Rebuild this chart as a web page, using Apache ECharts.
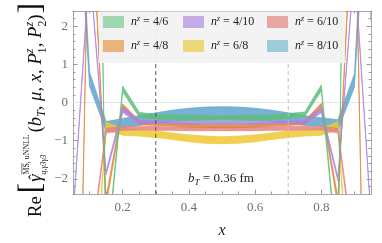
<!DOCTYPE html>
<html><head><meta charset="utf-8">
<script src="https://cdn.jsdelivr.net/npm/echarts@6/dist/echarts.min.js"></script>
<style>html,body{margin:0;padding:0;background:#fff}#c{width:382px;height:243px}</style>
</head><body><div id="c"></div>
<script>
// ---------------- data ----------------
const xValues = [0.05,0.10,0.15,0.20,0.25,0.30,0.35,0.40,0.45,0.50,0.55,0.60,0.65,0.70,0.75,0.80,0.85,0.90,0.95];
const xTickLabels = [0.2,0.4,0.6,0.8];
const yTickLabels = [-2,-1,0,1,2];
const refLinesX = [0.3, 0.7];

const n46Lo  = [2.15, 22.7, -4.3, 0.28, -0.38, -0.43, -0.45, -0.47, -0.48, -0.48, -0.48, -0.47, -0.45, -0.42, -0.37, 0.31, -4.3, 22.7, 2.15];
const n46Hi  = [2.25, 23.3, -4.1, 0.43, -0.26, -0.31, -0.33, -0.34, -0.35, -0.35, -0.35, -0.34, -0.33, -0.29, -0.25, 0.46, -4.1, 23.3, 2.25];
const n48Lo  = [-15.5, 6.2, -2.7, -0.18, -0.58, -0.60, -0.62, -0.64, -0.66, -0.66, -0.66, -0.64, -0.62, -0.60, -0.58, -0.15, -2.7, 6.2, -15.5];
const n48Hi  = [-15.3, 6.4, -2.5, -0.04, -0.47, -0.51, -0.54, -0.56, -0.58, -0.58, -0.58, -0.56, -0.54, -0.51, -0.47, -0.02, -2.5, 6.4, -15.3];
const n410Lo = [-3.05, 3.55, -1.9, -0.26, -0.56, -0.55, -0.56, -0.57, -0.57, -0.57, -0.57, -0.57, -0.56, -0.55, -0.56, -0.27, -2.05, 3.55, -3.05];
const n410Hi = [-2.95, 3.65, -1.8, -0.12, -0.46, -0.48, -0.49, -0.50, -0.50, -0.50, -0.50, -0.50, -0.49, -0.48, -0.46, -0.15, -1.95, 3.65, -2.95];
const n68Lo  = [-12.1, -7.1, -0.72, -0.86, -0.88, -0.92, -0.97, -1.03, -1.07, -1.08, -1.07, -1.03, -0.97, -0.92, -0.88, -0.86, -0.72, -7.1, -12.1];
const n68Hi  = [-11.9, -6.9, -0.52, -0.68, -0.72, -0.75, -0.80, -0.85, -0.88, -0.90, -0.88, -0.85, -0.80, -0.75, -0.72, -0.68, -0.50, -6.9, -11.9];
const n610Lo = [-6.1, -4.2, -0.80, -0.73, -0.72, -0.73, -0.73, -0.74, -0.74, -0.74, -0.74, -0.74, -0.73, -0.73, -0.72, -0.72, -0.80, -4.2, -6.1];
const n610Hi = [-5.9, -4.0, -0.68, -0.63, -0.62, -0.63, -0.64, -0.64, -0.64, -0.64, -0.64, -0.64, -0.64, -0.63, -0.62, -0.62, -0.68, -4.0, -5.9];
const n810Lo = [7.5, 0.42, -0.74, -0.66, -0.60, -0.53, -0.50, -0.47, -0.46, -0.45, -0.46, -0.47, -0.50, -0.53, -0.60, -0.62, -0.72, 0.40, 7.5];
const n810Hi = [9.0, 0.80, -0.50, -0.42, -0.35, -0.27, -0.20, -0.15, -0.12, -0.11, -0.12, -0.15, -0.20, -0.27, -0.35, -0.40, -0.45, 0.75, 9.0];

const seriesNames = ['8/10','6/8','6/10','4/8','4/10','4/6']; // drawing order
const seriesLo = {'4/6':n46Lo,'4/8':n48Lo,'4/10':n410Lo,'6/8':n68Lo,'6/10':n610Lo,'8/10':n810Lo};
const seriesHi = {'4/6':n46Hi,'4/8':n48Hi,'4/10':n410Hi,'6/8':n68Hi,'6/10':n610Hi,'8/10':n810Hi};

// ---------------- styles ----------------
const bandColor = {
  '4/6':'rgba(95,190,125,0.85)', '4/8':'rgba(225,130,55,0.85)', '4/10':'rgba(170,130,225,0.85)',
  '6/8':'rgba(238,200,50,0.85)', '6/10':'rgba(228,130,130,0.85)', '8/10':'rgba(95,165,205,0.85)'
};
const legendColor = {'4/6':'#9fd6ae','4/8':'#e8b37d','4/10':'#c4ade6','6/8':'#ecd875','6/10':'#e8a7a5','8/10':'#9ecbdc'};
const legendCols = [['4/6','4/8'],['4/10','6/8'],['6/10','8/10']];
const legendLeft = [103, 183, 267];
const FF = '"Liberation Serif","Times New Roman",serif';

// ---------------- math text helper ----------------
const mctx = document.createElement('canvas').getContext('2d');
function fnt(t){ return (t.it?'italic ':'') + t.size + 'px ' + FF; }
function tw(t){ mctx.font = fnt(t); return mctx.measureText(t.text).width; }
function textEl(t, x, color, align){
  return {type:'text', x:x, y:(t.dy||0) - 0.33*t.size, silent:true,
    style:{text:t.text, font:fnt(t), fill:color, align:align||'left', verticalAlign:'middle'}};
}
function layout(tokens, color){
  let x = 0; const els = []; const marks = {};
  tokens.forEach(t => {
    if (t.gap !== undefined){ x += t.gap; return; }
    const list = t.stack || [t];
    let w = 0;
    list.forEach(s => { const ww = tw(s); w = Math.max(w, ww); els.push(textEl(s, x, color)); if (s.id) marks[s.id] = {x:x, w:ww}; });
    x += w;
  });
  return {els, width:x, marks};
}

const S = 19;
const titleTokens = [
  {text:'Re', size:S}, {gap:3},
  {text:'[', size:32}, {gap:1},
  {text:'γ', size:S, it:true, id:'gamma'},
  {stack:[{text:'MS, uNNLL', size:8, dy:-13, id:'ms'}, {text:'q,γ3γ3', size:8, it:true, dy:5}]},
  {gap:2},
  {text:'(', size:S}, {text:'b', size:S, it:true}, {text:'T', size:12, it:true, dy:4},
  {text:', ', size:S}, {text:'μ', size:S, it:true}, {text:', ', size:S}, {text:'x', size:S, it:true},
  {text:', ', size:S}, {text:'P', size:S, it:true},
  {stack:[{text:'z', size:12, it:true, dy:-8}, {text:'1', size:12, dy:5}]},
  {text:', ', size:S}, {text:'P', size:S, it:true},
  {stack:[{text:'z', size:12, it:true, dy:-8}, {text:'2', size:12, dy:5}]},
  {text:')', size:S}, {gap:1}, {text:']', size:32}
];
const title = layout(titleTokens, '#111');
const gm = title.marks.gamma;
title.els.push(textEl({text:'ˆ', size:16, dy:-1}, gm.x + gm.w/2 + 1, '#111', 'center'));
const msw = tw({text:'MS', size:8});
title.els.push({type:'line', silent:true, shape:{x1:title.marks.ms.x, y1:-20.5, x2:title.marks.ms.x + msw, y2:-20.5}, style:{stroke:'#111', lineWidth:0.6}});
const titleScale = Math.min(1, 214 / title.width);

const bTokens = [{text:'b', size:13, it:true}, {text:'T', size:9, it:true, dy:3}, {text:' = 0.36 fm', size:13}];
const bLabel = layout(bTokens, '#222');

// ---------------- chart ----------------
const chart = echarts.init(document.getElementById('c'), null, {renderer:'canvas'});

function makeRender(color){
  return function(params, api){
    if (params.dataIndexInside !== 0) return null;
    const n = params.dataInsideLength;
    const up = [], dn = [];
    for (let j = 0; j < n; j++){
      up.push(api.coord([api.value(0, j), api.value(2, j)]));
      dn.push(api.coord([api.value(0, j), api.value(1, j)]));
    }
    return {type:'polygon', shape:{points: up.concat(dn.reverse())},
      style:{fill:color, stroke:color, lineWidth:0.8}};
  };
}

const bandSeries = seriesNames.map((name, k) => ({
  type:'custom', name:name, xAxisIndex:0, yAxisIndex:0, clip:true, silent:true, z:2 + k*0.01,
  itemStyle:{color:bandColor[name]},
  renderItem: makeRender(bandColor[name]),
  data: xValues.map((x, i) => [x, seriesLo[name][i], seriesHi[name][i]])
}));

const refSeries = refLinesX.map((x, i) => ({
  type:'line', xAxisIndex:0, yAxisIndex:0, silent:true, showSymbol:false, z:3,
  lineStyle:{type:[4,3], width:1, color: i === 0 ? '#555' : '#bdbdbd'},
  data:[[x, -2.4], [x, 2.4]]
}));
const zeroSeries = {type:'line', xAxisIndex:0, yAxisIndex:0, silent:true, showSymbol:false, z:1,
  lineStyle:{width:1, color:'#e6e6e6'}, data:[[0.05, 0], [0.95, 0]]};

const tickStyle = {color:'#9a9a9a', width:1};
const labelStyle = {fontFamily:FF, fontSize:13, color:'#6e6e6e'};
function fmtNum(v){ return (v < 0 ? '−' : '') + Math.abs(v); }

const option = {
  animation:false,
  grid:[
    {left:73, top:11, width:298, height:183, containLabel:false, outerBoundsMode:'none'},
    {left:122.67, top:11, width:198.67, height:183, containLabel:false, outerBoundsMode:'none'},
    {left:73, top:26.25, width:298, height:152.5, containLabel:false, outerBoundsMode:'none'}
  ],
  xAxis:[
    {type:'value', gridIndex:0, position:'bottom', min:0.05, max:0.95, interval:0.05,
      axisLine:{show:true, onZero:false, lineStyle:{color:'#aaa', width:1}},
      axisTick:{show:true, inside:true, length:2.5, lineStyle:tickStyle},
      axisLabel:{show:false}, splitLine:{show:false}},
    {type:'value', gridIndex:0, position:'top', min:0.05, max:0.95, interval:0.05,
      axisLine:{show:true, onZero:false, lineStyle:{color:'#aaa', width:1}},
      axisTick:{show:true, inside:true, length:2.5, lineStyle:tickStyle},
      axisLabel:{show:false}, splitLine:{show:false}},
    {type:'value', gridIndex:1, position:'bottom', min:xTickLabels[0], max:xTickLabels[xTickLabels.length-1], interval:0.2,
      axisLine:{show:false, onZero:false},
      axisTick:{show:true, inside:true, length:4.5, lineStyle:tickStyle},
      axisLabel:{show:true, margin:7, formatter:v => v.toFixed(1), ...labelStyle}, splitLine:{show:false}},
    {type:'value', gridIndex:1, position:'top', min:xTickLabels[0], max:xTickLabels[xTickLabels.length-1], interval:0.2,
      axisLine:{show:false, onZero:false},
      axisTick:{show:true, inside:true, length:4.5, lineStyle:tickStyle},
      axisLabel:{show:false}, splitLine:{show:false}},
    {type:'value', gridIndex:2, show:false, min:0.05, max:0.95}
  ],
  yAxis:[
    {type:'value', gridIndex:0, position:'left', min:-2.4, max:2.4, interval:0.2,
      axisLine:{show:true, onZero:false, lineStyle:{color:'#aaa', width:1}},
      axisTick:{show:true, inside:true, length:2.5, lineStyle:tickStyle},
      axisLabel:{show:false}, splitLine:{show:false}},
    {type:'value', gridIndex:0, position:'right', min:-2.4, max:2.4, interval:0.2,
      axisLine:{show:true, onZero:false, lineStyle:{color:'#aaa', width:1}},
      axisTick:{show:true, inside:true, length:2.5, lineStyle:tickStyle},
      axisLabel:{show:false}, splitLine:{show:false}},
    {type:'value', gridIndex:1, show:false, min:-2.4, max:2.4},
    {type:'value', gridIndex:2, position:'left', min:yTickLabels[0], max:yTickLabels[yTickLabels.length-1], interval:1,
      axisLine:{show:false, onZero:false},
      axisTick:{show:true, inside:true, length:4.5, lineStyle:tickStyle},
      axisLabel:{show:true, margin:5, formatter:fmtNum, ...labelStyle}, splitLine:{show:false}},
    {type:'value', gridIndex:2, position:'right', min:yTickLabels[0], max:yTickLabels[yTickLabels.length-1], interval:1,
      axisLine:{show:false, onZero:false},
      axisTick:{show:true, inside:true, length:4.5, lineStyle:tickStyle},
      axisLabel:{show:false}, splitLine:{show:false}}
  ],
  legend: legendCols.map((col, i) => ({
    data: col.map(n => ({name:n, icon:'rect', itemStyle:{color:legendColor[n], borderWidth:0}})),
    orient:'vertical', left:legendLeft[i], top:15, itemWidth:21, itemHeight:12, itemGap:11, padding:0,
    selectedMode:false, z:6,
    formatter: n => '{n|n}{z|z}{t| = ' + n + '}',
    textStyle:{padding:[0,0,0,2], rich:{
      n:{fontFamily:FF, fontStyle:'italic', fontSize:12, color:'#222', lineHeight:14},
      z:{fontFamily:FF, fontStyle:'italic', fontSize:8, color:'#222', lineHeight:6, verticalAlign:'top'},
      t:{fontFamily:FF, fontSize:12, color:'#222', lineHeight:14}
    }}
  })),
  graphic:{elements:[
    {type:'rect', z:5, silent:true, shape:{x:99, y:11.5, width:246, height:51.5}, style:{fill:'#f2f2f2', opacity:0.95}},
    {type:'group', x:42, y:110 + title.width*titleScale/2, rotation:Math.PI/2, scaleX:titleScale, scaleY:titleScale, children:title.els},
    {type:'group', x:221 - bLabel.width/2, y:183, children:bLabel.els},
    {type:'text', x:222, y:231, silent:true, style:{text:'x', font:'italic 16px ' + FF, fill:'#222', align:'center', verticalAlign:'middle'}}
  ]},
  series: [zeroSeries].concat(bandSeries, refSeries)
};
chart.setOption(option);
</script>
</body></html>
